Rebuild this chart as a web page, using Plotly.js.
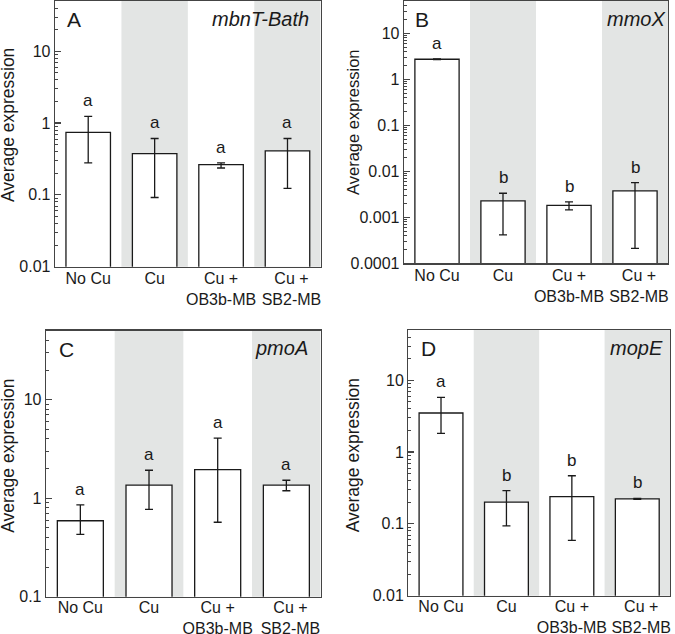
<!DOCTYPE html>
<html>
<head>
<meta charset="utf-8">
<script src="https://cdn.plot.ly/plotly-3.0.1.min.js"></script>
<style>html,body{margin:0;padding:0;background:#fff;}#chart{width:675px;height:634px;}</style>
</head>
<body>
<div id="chart"></div>
<script>
// ---- data ----
const categories = ['No Cu', 'Cu', 'Cu +<br>OB3b-MB', 'Cu +<br>SB2-MB'];
const panelLetters = ['A', 'B', 'C', 'D'];
const geneNames = ['mbnT-Bath', 'mmoX', 'pmoA', 'mopE'];

const meanA = [0.74, 0.376, 0.264, 0.41];
const upperA = [1.24, 0.61, 0.28, 0.61];
const lowerA = [0.28, 0.092, 0.237, 0.123];
const sigA = ['a', 'a', 'a', 'a'];

const meanB = [2.72, 0.00228, 0.00182, 0.00375];
const upperB = [2.76, 0.00333, 0.00216, 0.00568];
const lowerB = [2.68, 0.000414, 0.00145, 0.00021];
const sigB = ['a', 'b', 'b', 'b'];

const meanC = [0.59, 1.36, 1.95, 1.36];
const upperC = [0.855, 1.92, 4.07, 1.52];
const lowerC = [0.43, 0.77, 0.57, 1.19];
const sigC = ['a', 'a', 'a', 'a'];

const meanD = [3.5, 0.201, 0.24, 0.223];
const upperD = [5.77, 0.291, 0.468, 0.226];
const lowerD = [1.82, 0.094, 0.059, 0.220];
const sigD = ['a', 'b', 'b', 'b'];

const ytickA = [0.01, 0.1, 1, 10];
const ytickTextA = ['0.01', '0.1', '1', '10'];
const ytickB = [0.0001, 0.001, 0.01, 0.1, 1, 10];
const ytickTextB = ['0.0001', '0.001', '0.01', '0.1', '1', '10'];
const ytickC = [0.1, 1, 10];
const ytickTextC = ['0.1', '1', '10'];
const ytickD = [0.01, 0.1, 1, 10];
const ytickTextD = ['0.01', '0.1', '1', '10'];

// ---- layout helpers ----
const W = 675, H = 634;
const px = x => x / W;
const py = y => 1 - y / H;
const FONT = '"Liberation Sans", Arial, Helvetica, sans-serif';
const INK = '#1a1a1a';
const FRAME = '#444444';
const SHADE = '#e3e5e4';
const labelNudge = [0, 0, 0, 0.06];   // small rightward shift of the last x label, as in the original

const panels = [
  {mean: meanA, up: upperA, lo: lowerA, sig: sigA, tv: ytickA, tt: ytickTextA, range: [-2, 1.7], lblOff: -3,
   box: [55, 320.7, 1, 266.7], letterPos: [73.5, 19.5], genePos: [311, 19], titlePos: [8, 125], titleSize: 17.5},
  {mean: meanB, up: upperB, lo: lowerB, sig: sigB, tv: ytickB, tt: ytickTextB, range: [-4, 1.7], lblOff: -3,
   box: [404, 668, 1, 263.3], letterPos: [421.5, 19], genePos: [666.5, 19], titlePos: [352.5, 122.5], titleSize: 16.5},
  {mean: meanC, up: upperC, lo: lowerC, sig: sigC, tv: ytickC, tt: ytickTextC, range: [-1, 1.7], lblOff: -4,
   box: [46, 320.7, 330.7, 596.7], letterPos: [66.7, 349], genePos: [310, 348], titlePos: [8, 455.8], titleSize: 17.5},
  {mean: meanD, up: upperD, lo: lowerD, sig: sigD, tv: ytickD, tt: ytickTextD, range: [-2, 1.7], lblOff: -4,
   box: [408.3, 670, 330, 595.7], letterPos: [428, 348], genePos: [665, 348], titlePos: [352.5, 455.8], titleSize: 17.5}
];

const xIdx = categories.map((c, i) => i);
const traces = [];
const layout = {
  width: W, height: H,
  margin: {l: 0, r: 0, t: 0, b: 0},
  paper_bgcolor: '#fff', plot_bgcolor: '#fff',
  showlegend: false,
  font: {family: FONT, color: INK, size: 16},
  shapes: [], annotations: []
};

panels.forEach((p, k) => {
  const n = k === 0 ? '' : String(k + 1);
  const xa = 'x' + n, ya = 'y' + n;
  traces.push({
    type: 'bar', x: xIdx, y: p.mean, xaxis: xa, yaxis: ya, width: 0.67,
    marker: {color: '#ffffff', line: {color: INK, width: 1.3}},
    error_y: {type: 'data', symmetric: false,
      array: p.mean.map((m, i) => p.up[i] - m),
      arrayminus: p.mean.map((m, i) => m - p.lo[i]),
      color: INK, thickness: 1.3, width: 4},
    hoverinfo: 'skip'
  });
  // minor ticks 2..9 per decade
  const minor = [];
  for (let e = Math.floor(p.range[0]); e <= Math.ceil(p.range[1]); e++) {
    for (let d = 2; d <= 9; d++) minor.push(d * Math.pow(10, e));
  }
  layout['xaxis' + n] = {
    domain: [px(p.box[0]), px(p.box[1])], anchor: ya,
    range: [-0.5, 3.5], tickmode: 'array', tickvals: xIdx.map((v, i) => v + labelNudge[i]), ticktext: categories,
    tickangle: 0, automargin: false, ticklabelstandoff: p.lblOff,
    ticks: '', showgrid: false, zeroline: false,
    showline: true, mirror: true, linecolor: FRAME, linewidth: 1.3,
    tickfont: {family: FONT, size: 16, color: INK}, fixedrange: true
  };
  layout['yaxis' + n] = {
    domain: [py(p.box[3]), py(p.box[2])], anchor: xa,
    type: 'log', range: p.range, tickmode: 'array', tickvals: p.tv, ticktext: p.tt,
    automargin: false,
    ticks: 'inside', ticklen: 6, tickwidth: 1.2, tickcolor: FRAME,
    minor: {tickmode: 'array', tickvals: minor, ticks: 'inside', ticklen: 3, tickwidth: 1, tickcolor: FRAME, showgrid: false},
    showgrid: false, zeroline: false,
    showline: true, mirror: true, linecolor: FRAME, linewidth: 1.3,
    tickfont: {family: FONT, size: 16, color: INK}, fixedrange: true
  };
  // shaded columns
  [[0.5, 1.5], [2.5, 3.5]].forEach(([a, b]) => {
    layout.shapes.push({type: 'rect', xref: xa, yref: ya + ' domain', x0: a, x1: b, y0: 0, y1: 1,
      fillcolor: SHADE, line: {width: 0}, layer: 'below'});
  });
  // significance letters
  p.sig.forEach((s, i) => {
    layout.annotations.push({xref: xa, yref: ya, x: i, y: Math.log10(p.up[i]), text: s,
      showarrow: false, yanchor: 'bottom', yshift: 4, font: {family: FONT, size: 17, color: INK}});
  });
  // panel letter
  layout.annotations.push({xref: 'paper', yref: 'paper', x: px(p.letterPos[0]), y: py(p.letterPos[1]),
    text: panelLetters[k], showarrow: false, xanchor: 'center', yanchor: 'middle',
    font: {family: FONT, size: 21, color: INK}});
  // gene name
  layout.annotations.push({xref: 'paper', yref: 'paper', x: px(p.genePos[0]), y: py(p.genePos[1]),
    text: '<i>' + geneNames[k] + '</i>', showarrow: false, xanchor: 'right', yanchor: 'middle',
    font: {family: FONT, size: 20, color: INK}});
  // y axis title
  layout.annotations.push({xref: 'paper', yref: 'paper', x: px(p.titlePos[0]), y: py(p.titlePos[1]),
    text: 'Average expression', textangle: -90, showarrow: false, xanchor: 'center', yanchor: 'middle',
    font: {family: FONT, size: p.titleSize, color: INK}});
});

Plotly.newPlot('chart', traces, layout, {staticPlot: true, displayModeBar: false});
</script>
</body>
</html>
